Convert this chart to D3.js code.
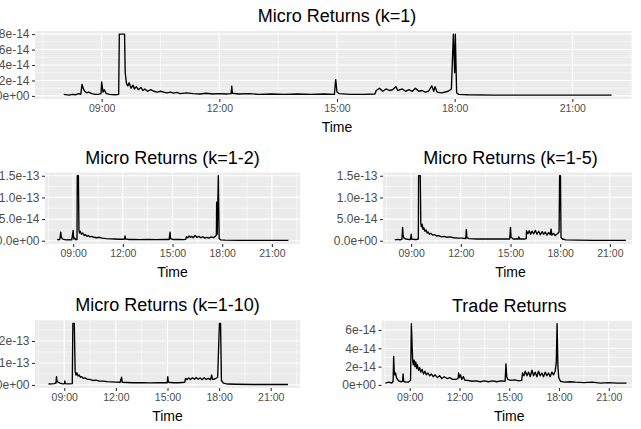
<!DOCTYPE html>
<html>
<head>
<meta charset="utf-8">
<script src="https://cdn.jsdelivr.net/npm/d3@7"></script>
<style>
  body { margin: 0; background: #fff; }
  svg { display: block; font-family: "Liberation Sans", Arial, sans-serif; }
</style>
</head>
<body>
<svg id="chart" width="641" height="429"></svg>
<script>
// --- data (values in the unit named next to each array) ---
const xTickLabels = ["09:00", "12:00", "15:00", "18:00", "21:00"];
const xMinorLabels = ["07:30", "10:30", "13:30", "16:30", "19:30", "22:30"];

// Micro Returns (k=1), x 1e-14
const k1Times = ["08:02","08:10","08:15","08:20","08:25","08:28","08:30","08:32","08:34","08:37","08:40","08:45","08:50","08:55","08:59","09:00","09:02","09:04","09:07","09:12","09:20","09:26","09:27","09:35","09:36","09:38","09:40","09:42","09:45","09:48","09:50","09:53","09:56","10:00","10:03","10:06","10:10","10:15","10:20","10:25","10:30","10:35","10:40","10:45","10:50","10:55","11:00","11:10","11:20","11:30","11:40","11:50","12:00","12:10","12:18","12:19","12:20","12:30","12:45","13:00","13:20","13:40","14:00","14:20","14:40","14:56","14:58","15:00","15:03","15:20","15:40","15:58","16:00","16:05","16:10","16:15","16:20","16:25","16:30","16:33","16:40","16:45","16:50","16:55","17:00","17:05","17:10","17:15","17:20","17:25","17:28","17:30","17:33","17:40","17:50","17:55","17:58","18:00","18:01","18:03","18:06","18:20","19:00","20:00","21:00","22:00"];
const k1Values = [0.2,0.1,0.2,0.15,0.3,0.2,1.5,0.9,0.6,0.4,0.5,0.3,0.2,0.2,0.3,1.8,0.5,0.8,0.3,0.2,0.15,0.2,8,8,3,1.6,1.3,1.7,1.0,1.4,0.9,1.2,0.8,1.1,0.7,0.9,0.6,0.8,0.6,0.5,0.6,0.5,0.4,0.5,0.35,0.45,0.3,0.4,0.3,0.25,0.35,0.25,0.3,0.25,0.3,1.25,0.35,0.25,0.3,0.2,0.25,0.2,0.25,0.2,0.25,0.2,2.1,0.5,0.3,0.2,0.2,0.25,0.7,1.0,0.6,0.9,0.7,0.8,1.2,0.7,0.9,0.6,0.8,0.6,1.0,0.6,0.7,0.5,0.6,1.3,0.6,1.2,0.5,0.4,0.6,0.9,8,3,8,0.4,0.2,0.15,0.1,0.1,0.1,0.1];
const k1YTicks = [0, 2, 4, 6, 8];
const k1YLabels = ["0e+00", "2e-14", "4e-14", "6e-14", "8e-14"];

// Micro Returns (k=1-2), x 1e-14
const k12Times = ["08:02","08:08","08:12","08:15","08:17","08:20","08:25","08:35","08:45","08:55","09:00","09:02","09:06","09:10","09:14","09:15","09:19","09:21","09:23","09:26","09:30","09:35","09:40","09:45","09:50","09:55","10:00","10:08","10:15","10:25","10:35","10:45","11:00","11:15","11:30","11:45","12:00","12:06","12:08","12:10","12:20","12:40","13:00","13:30","14:00","14:30","14:48","14:51","14:53","15:00","15:20","15:40","15:48","15:50","15:55","16:00","16:05","16:10","16:15","16:22","16:28","16:35","16:42","16:50","16:58","17:05","17:12","17:20","17:28","17:35","17:39","17:40","17:42","17:46","17:49","17:55","18:10","19:00","20:00","21:00","22:00"];
const k12Values = [0.3,0.2,0.4,2.0,0.9,0.5,0.3,0.2,0.25,0.2,2.4,0.4,0.6,0.2,0.3,15,15,2.5,1.8,2.2,1.5,1.8,1.2,1.4,1.0,1.2,0.9,1.0,0.8,0.7,0.8,0.6,0.5,0.45,0.4,0.35,0.35,0.4,1.1,0.4,0.3,0.3,0.25,0.3,0.25,0.3,0.3,2.0,0.5,0.3,0.3,0.25,0.3,0.9,0.7,1.1,0.8,1.0,0.7,1.2,0.8,1.0,0.7,0.9,0.6,0.8,0.6,0.9,0.7,1.0,1.3,8.9,1.5,15,0.5,0.2,0.15,0.1,0.1,0.08,0.08];
const k12YTicks = [0, 5, 10, 15];
const k12YLabels = ["0.0e+00", "5.0e-14", "1.0e-13", "1.5e-13"];

// Micro Returns (k=1-5), x 1e-14
const k15Times = ["08:01","08:10","08:20","08:27","08:29","08:31","08:34","08:40","08:50","08:58","09:00","09:02","09:10","09:20","09:26","09:27","09:33","09:35","09:37","09:40","09:43","09:46","09:50","09:54","09:58","10:02","10:06","10:12","10:18","10:25","10:32","10:40","10:50","11:00","11:10","11:20","11:35","11:50","12:05","12:18","12:20","12:22","12:30","12:45","13:00","13:30","14:00","14:30","14:57","15:00","15:02","15:10","15:28","15:30","15:33","15:50","15:57","15:58","16:03","16:08","16:13","16:18","16:24","16:30","16:36","16:42","16:48","16:55","17:00","17:06","17:12","17:18","17:24","17:27","17:30","17:36","17:42","17:50","17:56","17:58","18:01","18:03","18:08","18:20","19:00","20:00","21:00","21:58"];
const k15Values = [0.2,0.3,0.2,0.4,3.1,1.2,0.6,0.4,0.3,0.3,1.5,0.4,0.3,0.3,0.4,15,15,4.0,3.2,3.8,2.6,3.0,2.2,2.5,1.8,2.0,1.5,1.7,1.3,1.4,1.1,1.2,0.9,1.0,0.8,0.9,0.7,0.6,0.6,0.5,2.6,0.7,0.5,0.45,0.4,0.45,0.4,0.4,0.4,3.1,0.8,0.4,0.4,0.9,0.4,0.4,0.5,2.3,1.6,2.3,1.5,2.2,1.6,2.4,1.5,2.2,1.4,2.1,1.5,2.0,1.3,1.9,1.4,2.7,1.3,1.7,1.2,1.6,2.0,15,15,0.8,0.4,0.2,0.15,0.1,0.1,0.1];
const k15YTicks = [0, 5, 10, 15];
const k15YLabels = ["0.0e+00", "5.0e-14", "1.0e-13", "1.5e-13"];

// Micro Returns (k=1-10), x 1e-13
const k110Times = ["08:05","08:15","08:25","08:31","08:33","08:35","08:40","08:45","08:55","09:01","09:02","09:04","09:15","09:28","09:30","09:35","09:38","09:41","09:44","09:48","09:52","09:56","10:00","10:06","10:12","10:20","10:30","10:40","10:50","11:00","11:15","11:30","11:45","12:00","12:15","12:20","12:22","12:40","13:00","13:30","14:00","14:30","14:59","15:01","15:03","15:20","15:40","16:00","16:03","16:08","16:14","16:20","16:27","16:34","16:40","16:47","16:54","17:00","17:08","17:15","17:22","17:30","17:34","17:37","17:45","17:55","18:01","18:05","18:08","18:15","18:30","19:00","20:00","21:00","22:00"];
const k110Values = [0.04,0.05,0.06,0.08,0.38,0.15,0.12,0.08,0.05,0.06,0.18,0.06,0.05,0.06,2.8,2.8,0.6,0.45,0.55,0.4,0.45,0.35,0.38,0.3,0.32,0.26,0.25,0.2,0.22,0.18,0.17,0.15,0.14,0.13,0.12,0.35,0.12,0.11,0.1,0.1,0.09,0.1,0.1,0.38,0.12,0.1,0.1,0.12,0.3,0.24,0.32,0.25,0.33,0.26,0.34,0.26,0.32,0.24,0.33,0.25,0.3,0.24,0.45,0.25,0.27,0.35,2.8,2.8,0.2,0.08,0.04,0.03,0.02,0.02,0.02];
const k110YTicks = [0, 1, 2];
const k110YLabels = ["0e+00", "1e-13", "2e-13"];

// Trade Returns, x 1e-14
const tradeTimes = ["07:32","07:45","07:55","08:00","08:02","08:04","08:06","08:09","08:12","08:16","08:22","08:30","08:34","08:36","08:38","08:45","08:55","09:03","09:06","09:09","09:11","09:13","09:16","09:19","09:22","09:25","09:28","09:32","09:36","09:40","09:45","09:50","09:55","10:00","10:06","10:12","10:18","10:25","10:32","10:40","10:48","10:56","11:05","11:15","11:25","11:35","11:45","11:55","11:57","12:00","12:04","12:08","12:14","12:20","12:30","12:45","13:00","13:15","13:30","13:45","14:00","14:15","14:30","14:45","14:48","14:51","14:55","15:05","15:20","15:35","15:45","15:48","15:53","15:58","16:04","16:10","16:16","16:22","16:28","16:34","16:40","16:46","16:52","16:58","17:04","17:10","17:16","17:22","17:28","17:34","17:40","17:46","17:50","17:53","17:56","17:59","18:05","18:20","18:40","19:00","19:30","20:00","20:30","21:00","21:30","22:04"];
const tradeValues = [0.2,0.3,0.2,0.4,3.1,1.5,1.1,1.3,0.8,0.6,0.4,0.35,0.4,1.2,0.4,0.3,0.3,0.5,6.7,4.0,2.6,2.2,2.7,2.0,2.5,1.8,2.2,1.6,1.9,1.4,1.7,1.2,1.5,1.1,1.3,1.0,1.2,0.9,1.1,0.8,1.0,0.7,0.9,0.7,0.8,0.6,0.6,0.7,1.3,0.8,1.1,0.6,0.9,0.5,0.5,0.4,0.45,0.35,0.45,0.35,0.45,0.35,0.45,0.4,2.3,0.9,0.6,0.5,0.55,0.45,0.5,1.3,1.0,1.5,1.0,1.4,0.9,1.6,1.0,1.4,0.9,1.5,1.0,1.3,0.9,1.4,1.0,1.3,0.9,1.4,1.1,1.5,2.4,6.7,2.0,0.8,0.4,0.3,0.35,0.3,0.25,0.3,0.2,0.25,0.2,0.2];
const tradeYTicks = [0, 2, 4, 6];
const tradeYLabels = ["0e+00", "2e-14", "4e-14", "6e-14"];

// --- drawing ---
const parseTime = d3.timeParse("%H:%M");
const svg = d3.select("#chart");
const FIG_RIGHT = 632; // the figure is cropped here

function drawPanel(p) {
  const x = d3.scaleTime()
    .domain([parseTime("07:18"), parseTime("22:42")])
    .range([p.left, p.right]);
  const pad = p.yMax * 0.05;
  const y = d3.scaleLinear()
    .domain([-pad, p.yMax + pad])
    .range([p.bottom, p.top]);
  const visRight = Math.min(p.right, FIG_RIGHT);

  const g = svg.append("g");

  // panel background
  g.append("rect")
    .attr("x", p.left).attr("y", p.top)
    .attr("width", visRight - p.left).attr("height", p.bottom - p.top)
    .attr("fill", "#ebebeb");

  // minor grid
  const step = p.yTicks[1] - p.yTicks[0];
  const yMinor = p.yTicks.map(t => t + step / 2).filter(m => m < p.yMax + pad);
  g.selectAll(".ymin").data(yMinor).enter().append("line")
    .attr("x1", p.left).attr("x2", visRight)
    .attr("y1", d => y(d)).attr("y2", d => y(d))
    .attr("stroke", "#fff").attr("stroke-width", 0.55);
  g.selectAll(".xmin").data(xMinorLabels.map(parseTime).filter(d => x(d) < visRight)).enter().append("line")
    .attr("x1", d => x(d)).attr("x2", d => x(d))
    .attr("y1", p.top).attr("y2", p.bottom)
    .attr("stroke", "#fff").attr("stroke-width", 0.55);

  // major grid
  g.selectAll(".ymaj").data(p.yTicks).enter().append("line")
    .attr("x1", p.left).attr("x2", visRight)
    .attr("y1", d => y(d)).attr("y2", d => y(d))
    .attr("stroke", "#fff").attr("stroke-width", 1.1);
  g.selectAll(".xmaj").data(xTickLabels.map(parseTime)).enter().append("line")
    .attr("x1", d => x(d)).attr("x2", d => x(d))
    .attr("y1", p.top).attr("y2", p.bottom)
    .attr("stroke", "#fff").attr("stroke-width", 1.1);

  // series
  const clipId = "clip" + p.id;
  svg.append("clipPath").attr("id", clipId).append("rect")
    .attr("x", p.left).attr("y", p.top)
    .attr("width", visRight - p.left).attr("height", p.bottom - p.top);
  const data = p.times.map((t, i) => ({ t: parseTime(t), v: p.values[i] }));
  const line = d3.line().x(d => x(d.t)).y(d => y(d.v));
  g.append("path")
    .datum(data)
    .attr("clip-path", `url(#${clipId})`)
    .attr("fill", "none")
    .attr("stroke", "#000")
    .attr("stroke-width", 1.35)
    .attr("stroke-linejoin", "round")
    .attr("d", line);

  // axes
  const xAxis = d3.axisBottom(x)
    .tickValues(xTickLabels.map(parseTime))
    .tickFormat(d3.timeFormat("%H:%M"))
    .tickSize(3).tickPadding(2.5);
  const xg = g.append("g")
    .attr("transform", `translate(0,${p.bottom})`)
    .call(xAxis);
  const yAxis = d3.axisLeft(y)
    .tickValues(p.yTicks)
    .tickFormat((d, i) => p.yLabels[i])
    .tickSize(3).tickPadding(2.5);
  const yg = g.append("g")
    .attr("transform", `translate(${p.left},0)`)
    .call(yAxis);
  [xg, yg].forEach(a => {
    a.select(".domain").remove();
    a.selectAll(".tick line").attr("stroke", "#333").attr("stroke-width", 1.1);
    a.selectAll("text")
      .attr("fill", "#4d4d4d")
      .style("font-family", '"Liberation Sans", Arial, sans-serif');
  });
  xg.selectAll("text").style("font-size", "10.5px");
  yg.selectAll("text").style("font-size", "12px");

  // titles
  const cx = (p.left + p.right) / 2;
  g.append("text")
    .attr("x", cx).attr("y", p.top - 9)
    .attr("text-anchor", "middle")
    .attr("fill", "#000")
    .style("font-size", "18px")
    .text(p.title);
  g.append("text")
    .attr("x", cx).attr("y", p.bottom + 33)
    .attr("text-anchor", "middle")
    .attr("fill", "#000")
    .style("font-size", "14px")
    .text("Time");
}

const panels = [
  { id: 1, title: "Micro Returns (k=1)", left: 35, right: 639, top: 31, bottom: 99,
    times: k1Times, values: k1Values.map(v => v * 1e-14), yMax: 8e-14,
    yTicks: k1YTicks.map(v => v * 1e-14), yLabels: k1YLabels },
  { id: 2, title: "Micro Returns (k=1-2)", left: 45, right: 300, top: 172.5, bottom: 244,
    times: k12Times, values: k12Values.map(v => v * 1e-14), yMax: 15e-14,
    yTicks: k12YTicks.map(v => v * 1e-14), yLabels: k12YLabels },
  { id: 3, title: "Micro Returns (k=1-5)", left: 383, right: 638, top: 172.5, bottom: 244,
    times: k15Times, values: k15Values.map(v => v * 1e-14), yMax: 15e-14,
    yTicks: k15YTicks.map(v => v * 1e-14), yLabels: k15YLabels },
  { id: 4, title: "Micro Returns (k=1-10)", left: 35, right: 300, top: 320.3, bottom: 388,
    times: k110Times, values: k110Values.map(v => v * 1e-13), yMax: 2.8e-13,
    yTicks: k110YTicks.map(v => v * 1e-13), yLabels: k110YLabels },
  { id: 5, title: "Trade Returns", left: 381.5, right: 637, top: 320.5, bottom: 388,
    times: tradeTimes, values: tradeValues.map(v => v * 1e-14), yMax: 6.7e-14,
    yTicks: tradeYTicks.map(v => v * 1e-14), yLabels: tradeYLabels }
];

panels.forEach(drawPanel);
</script>
</body>
</html>
